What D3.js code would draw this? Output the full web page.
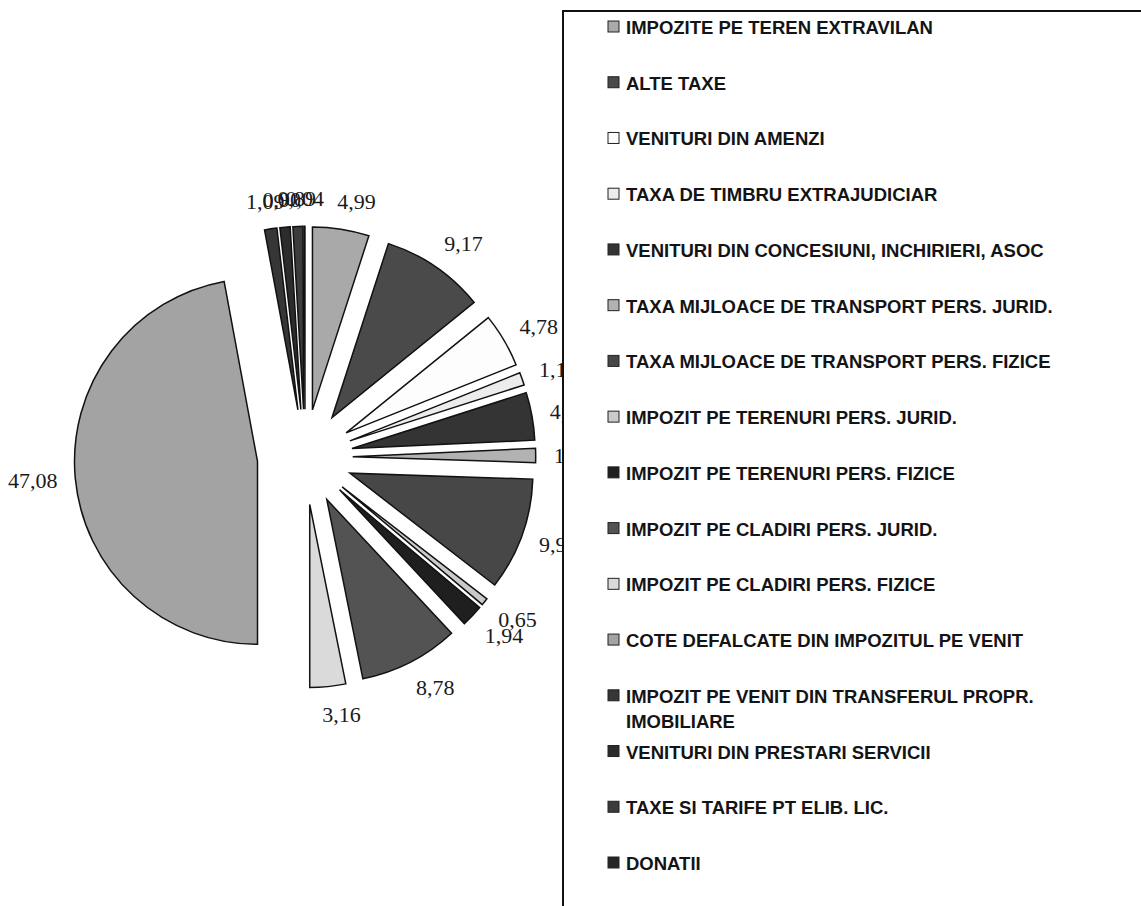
<!DOCTYPE html>
<html><head><meta charset="utf-8">
<script src="https://cdn.jsdelivr.net/npm/d3@7"></script>
<style>body{margin:0;background:#fff}</style>
</head><body>
<svg id="chart" width="1141" height="906"></svg>
<script>
const categories = [
  "IMPOZITE PE TEREN EXTRAVILAN",
  "ALTE TAXE",
  "VENITURI DIN AMENZI",
  "TAXA DE TIMBRU EXTRAJUDICIAR",
  "VENITURI DIN CONCESIUNI, INCHIRIERI, ASOC",
  "TAXA MIJLOACE DE TRANSPORT PERS. JURID.",
  "TAXA MIJLOACE DE TRANSPORT PERS. FIZICE",
  "IMPOZIT PE TERENURI PERS. JURID.",
  "IMPOZIT PE TERENURI PERS. FIZICE",
  "IMPOZIT PE CLADIRI PERS. JURID.",
  "IMPOZIT PE CLADIRI PERS. FIZICE",
  "COTE DEFALCATE DIN IMPOZITUL PE VENIT",
  "IMPOZIT PE VENIT DIN TRANSFERUL PROPR. IMOBILIARE",
  "VENITURI DIN PRESTARI SERVICII",
  "TAXE SI TARIFE PT ELIB. LIC.",
  "DONATII"
];
const values = [4.99, 9.17, 4.78, 1.12, 4.21, 1.25, 9.95, 0.65, 1.94, 8.78, 3.16, 47.08, 1.09, 0.90, 0.89, 0.04];
const colors = ["#a9a9a9", "#4a4a4a", "#fdfdfd", "#ececec", "#343434", "#b2b2b2", "#474747", "#cacaca",
                "#1f1f1f", "#535353", "#dadada", "#a3a3a3", "#363636", "#2c2c2c", "#3c3c3c", "#262626"];

const svg = d3.select("#chart");
const cx = 305, cy = 457, R = 183, explode = 47.7;
const fmt = v => d3.format(".2f")(v).replace(".", ",");

const pie = d3.pie().sort(null).value(d => d)(values);
const arc = d3.arc().innerRadius(0).outerRadius(R);

const g = svg.append("g").attr("transform", `translate(${cx},${cy})`);
const dirOf = d => { const m = (d.startAngle + d.endAngle) / 2; return [Math.sin(m), -Math.cos(m)]; };

g.selectAll("path.slice").data(pie).join("path")
  .attr("class", "slice")
  .attr("d", arc)
  .attr("transform", d => { const [x, y] = dirOf(d); return `translate(${x * explode},${y * explode})`; })
  .attr("fill", (d, i) => colors[i])
  .attr("stroke", "#111")
  .attr("stroke-width", 1.5)
  .attr("stroke-linejoin", "miter");

// data labels
const labels = g.selectAll("text.lbl").data(pie).join("text")
  .attr("class", "lbl")
  .attr("font-family", "'Liberation Serif','Times New Roman',serif")
  .attr("font-size", 22)
  .attr("fill", "#1a1a1a")
  .attr("text-anchor", "middle")
  .attr("dominant-baseline", "central")
  .text(d => fmt(d.data));
labels.each(function(d) {
  const w = this.getComputedTextLength(), h = 20;
  const [dx, dy] = dirOf(d);
  const shift = dx >= 0 ? 10 * dy * dy : 0;
  const px = dx * (explode + R + 18) + dx * w / 2 + shift;
  const py = dy * (explode + R + 18) + dy * h / 2;
  d3.select(this).attr("x", px).attr("y", py);
});

// legend box
svg.append("rect").attr("x", 563).attr("y", 11).attr("width", 700).attr("height", 1000)
  .attr("fill", "#fff").attr("stroke", "#111").attr("stroke-width", 2);

const ly = d3.scalePoint().domain(categories).range([27, 863]);
const leg = svg.append("g");
const items = leg.selectAll("g.item").data(categories).join("g")
  .attr("class", "item")
  .attr("transform", d => `translate(0,${ly(d)})`);
items.append("rect").attr("x", 608).attr("y", -6).attr("width", 11).attr("height", 11)
  .attr("fill", (d, i) => colors[i]).attr("stroke", "#222").attr("stroke-width", 1);
items.each(function(d) {
  const t = d3.select(this).append("text")
    .attr("x", 626).attr("y", 0)
    .attr("font-family", "'Liberation Sans',Arial,sans-serif")
    .attr("font-weight", "bold").attr("font-size", 18.5)
    .attr("fill", "#141414")
    .attr("dominant-baseline", "central");
  const words = d.split(" ");
  let line = [];
  let ts = t.append("tspan").attr("x", 626).attr("dy", 0);
  for (const w of words) {
    line.push(w);
    ts.text(line.join(" "));
    if (ts.node().getComputedTextLength() > 450 && line.length > 1) {
      line.pop(); ts.text(line.join(" "));
      line = [w];
      ts = t.append("tspan").attr("x", 626).attr("dy", 25).text(w);
    }
  }
});
</script>
</body></html>
